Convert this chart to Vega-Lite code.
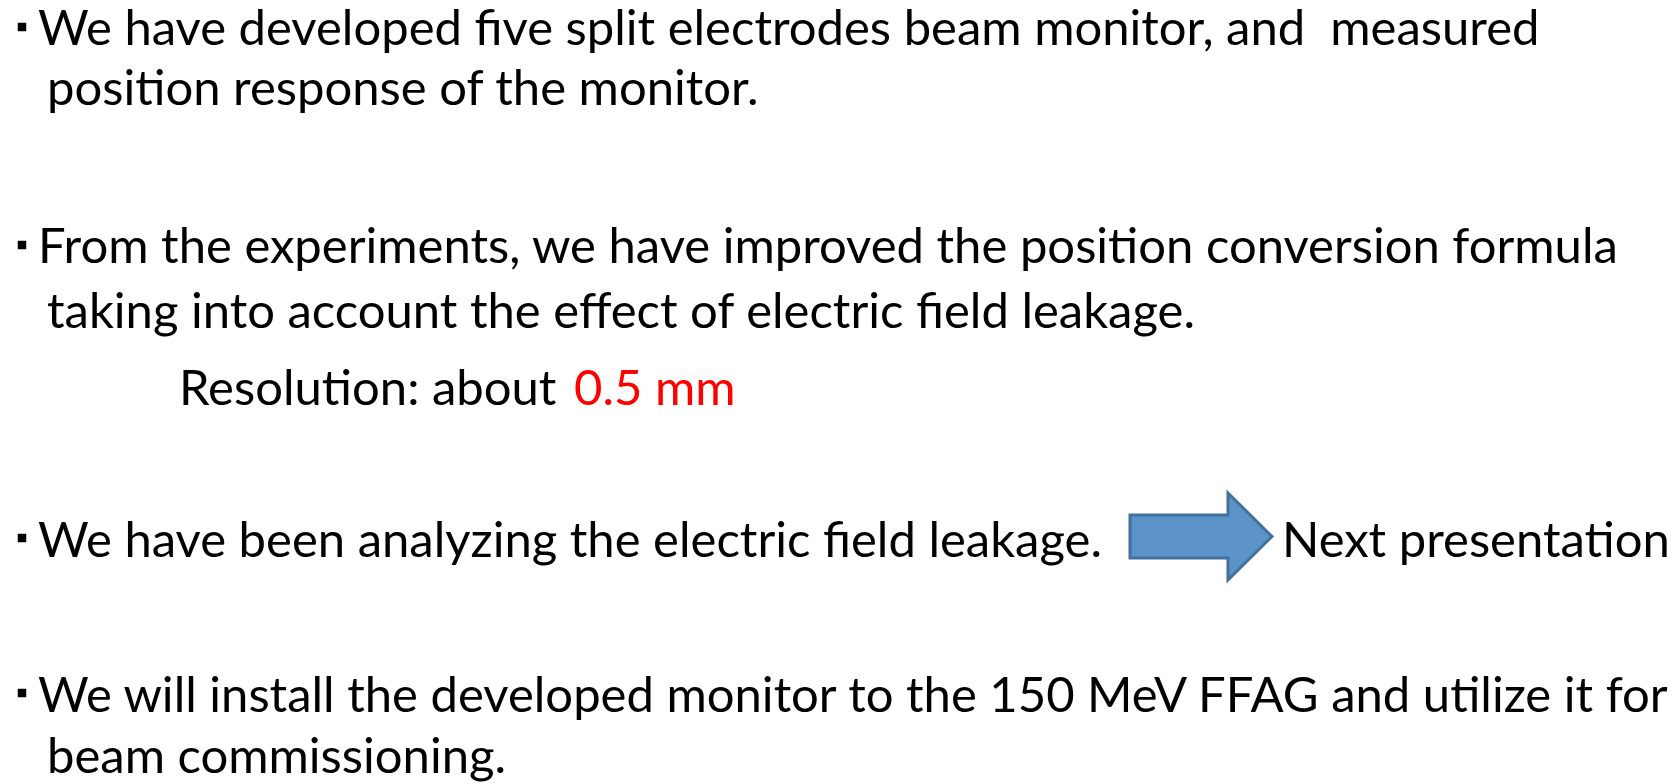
{
  "$schema": "https://vega.github.io/schema/vega-lite/v6.json",
  "width": 1677,
  "height": 784,
  "autosize": {"type": "fit", "contains": "padding"},
  "padding": 0,
  "background": "white",
  "config": {"view": {"stroke": null}},
  "datasets": {
    "lines": [
      {"x": 38, "y": 45, "text": "We have developed five split electrodes beam monitor, and \u00a0measured", "kind": "body"},
      {"x": 47, "y": 105, "text": "position response of the monitor.", "kind": "body"},
      {"x": 38, "y": 263, "text": "From the experiments, we have improved the position conversion formula", "kind": "body"},
      {"x": 47, "y": 328, "text": "taking into account the effect of electric field leakage.", "kind": "body"},
      {"x": 179, "y": 405, "text": "Resolution: about", "kind": "body"},
      {"x": 574, "y": 405, "text": "0.5 mm", "kind": "highlight"},
      {"x": 38, "y": 557, "text": "We have been analyzing the electric field leakage.", "kind": "body"},
      {"x": 1282, "y": 557, "text": "Next presentation", "kind": "body"},
      {"x": 38, "y": 712, "text": "We will install the developed monitor to the 150 MeV FFAG and utilize it for", "kind": "body"},
      {"x": 47, "y": 773, "text": "beam commissioning.", "kind": "body"}
    ],
    "bullets": [
      {"x": 22, "y": 27},
      {"x": 22, "y": 245},
      {"x": 22, "y": 538},
      {"x": 22, "y": 693}
    ],
    "arrow": [
      {"x": 1201, "y": 536.5}
    ]
  },
  "layer": [
    {
      "data": {"name": "bullets"},
      "mark": {"type": "point", "shape": "square", "filled": true, "size": 72, "color": "black", "opacity": 1},
      "encoding": {
        "x": {"field": "x", "type": "quantitative", "axis": null, "scale": {"domain": [0, 1677], "nice": false, "zero": false}},
        "y": {"field": "y", "type": "quantitative", "axis": null, "scale": {"domain": [0, 784], "nice": false, "zero": false, "reverse": true}}
      }
    },
    {
      "data": {"name": "arrow"},
      "mark": {"type": "point", "shape": "M-1,-0.303L0.38,-0.303L0.38,-0.613L1,0L0.38,0.613L0.38,0.303L-1,0.303Z", "filled": true, "size": 20164, "fill": "#5b93c9", "stroke": "#41719c", "strokeWidth": 3, "opacity": 1, "fillOpacity": 1, "strokeJoin": "miter"},
      "encoding": {
        "x": {"field": "x", "type": "quantitative"},
        "y": {"field": "y", "type": "quantitative"}
      }
    },
    {
      "data": {"name": "lines"},
      "mark": {"type": "text", "align": "left", "baseline": "alphabetic", "font": "Lato", "fontSize": 49},
      "encoding": {
        "x": {"field": "x", "type": "quantitative"},
        "y": {"field": "y", "type": "quantitative"},
        "text": {"field": "text", "type": "nominal"},
        "color": {"field": "kind", "type": "nominal", "legend": null, "scale": {"domain": ["body", "highlight"], "range": ["#000000", "#ff0000"]}}
      }
    }
  ]
}
